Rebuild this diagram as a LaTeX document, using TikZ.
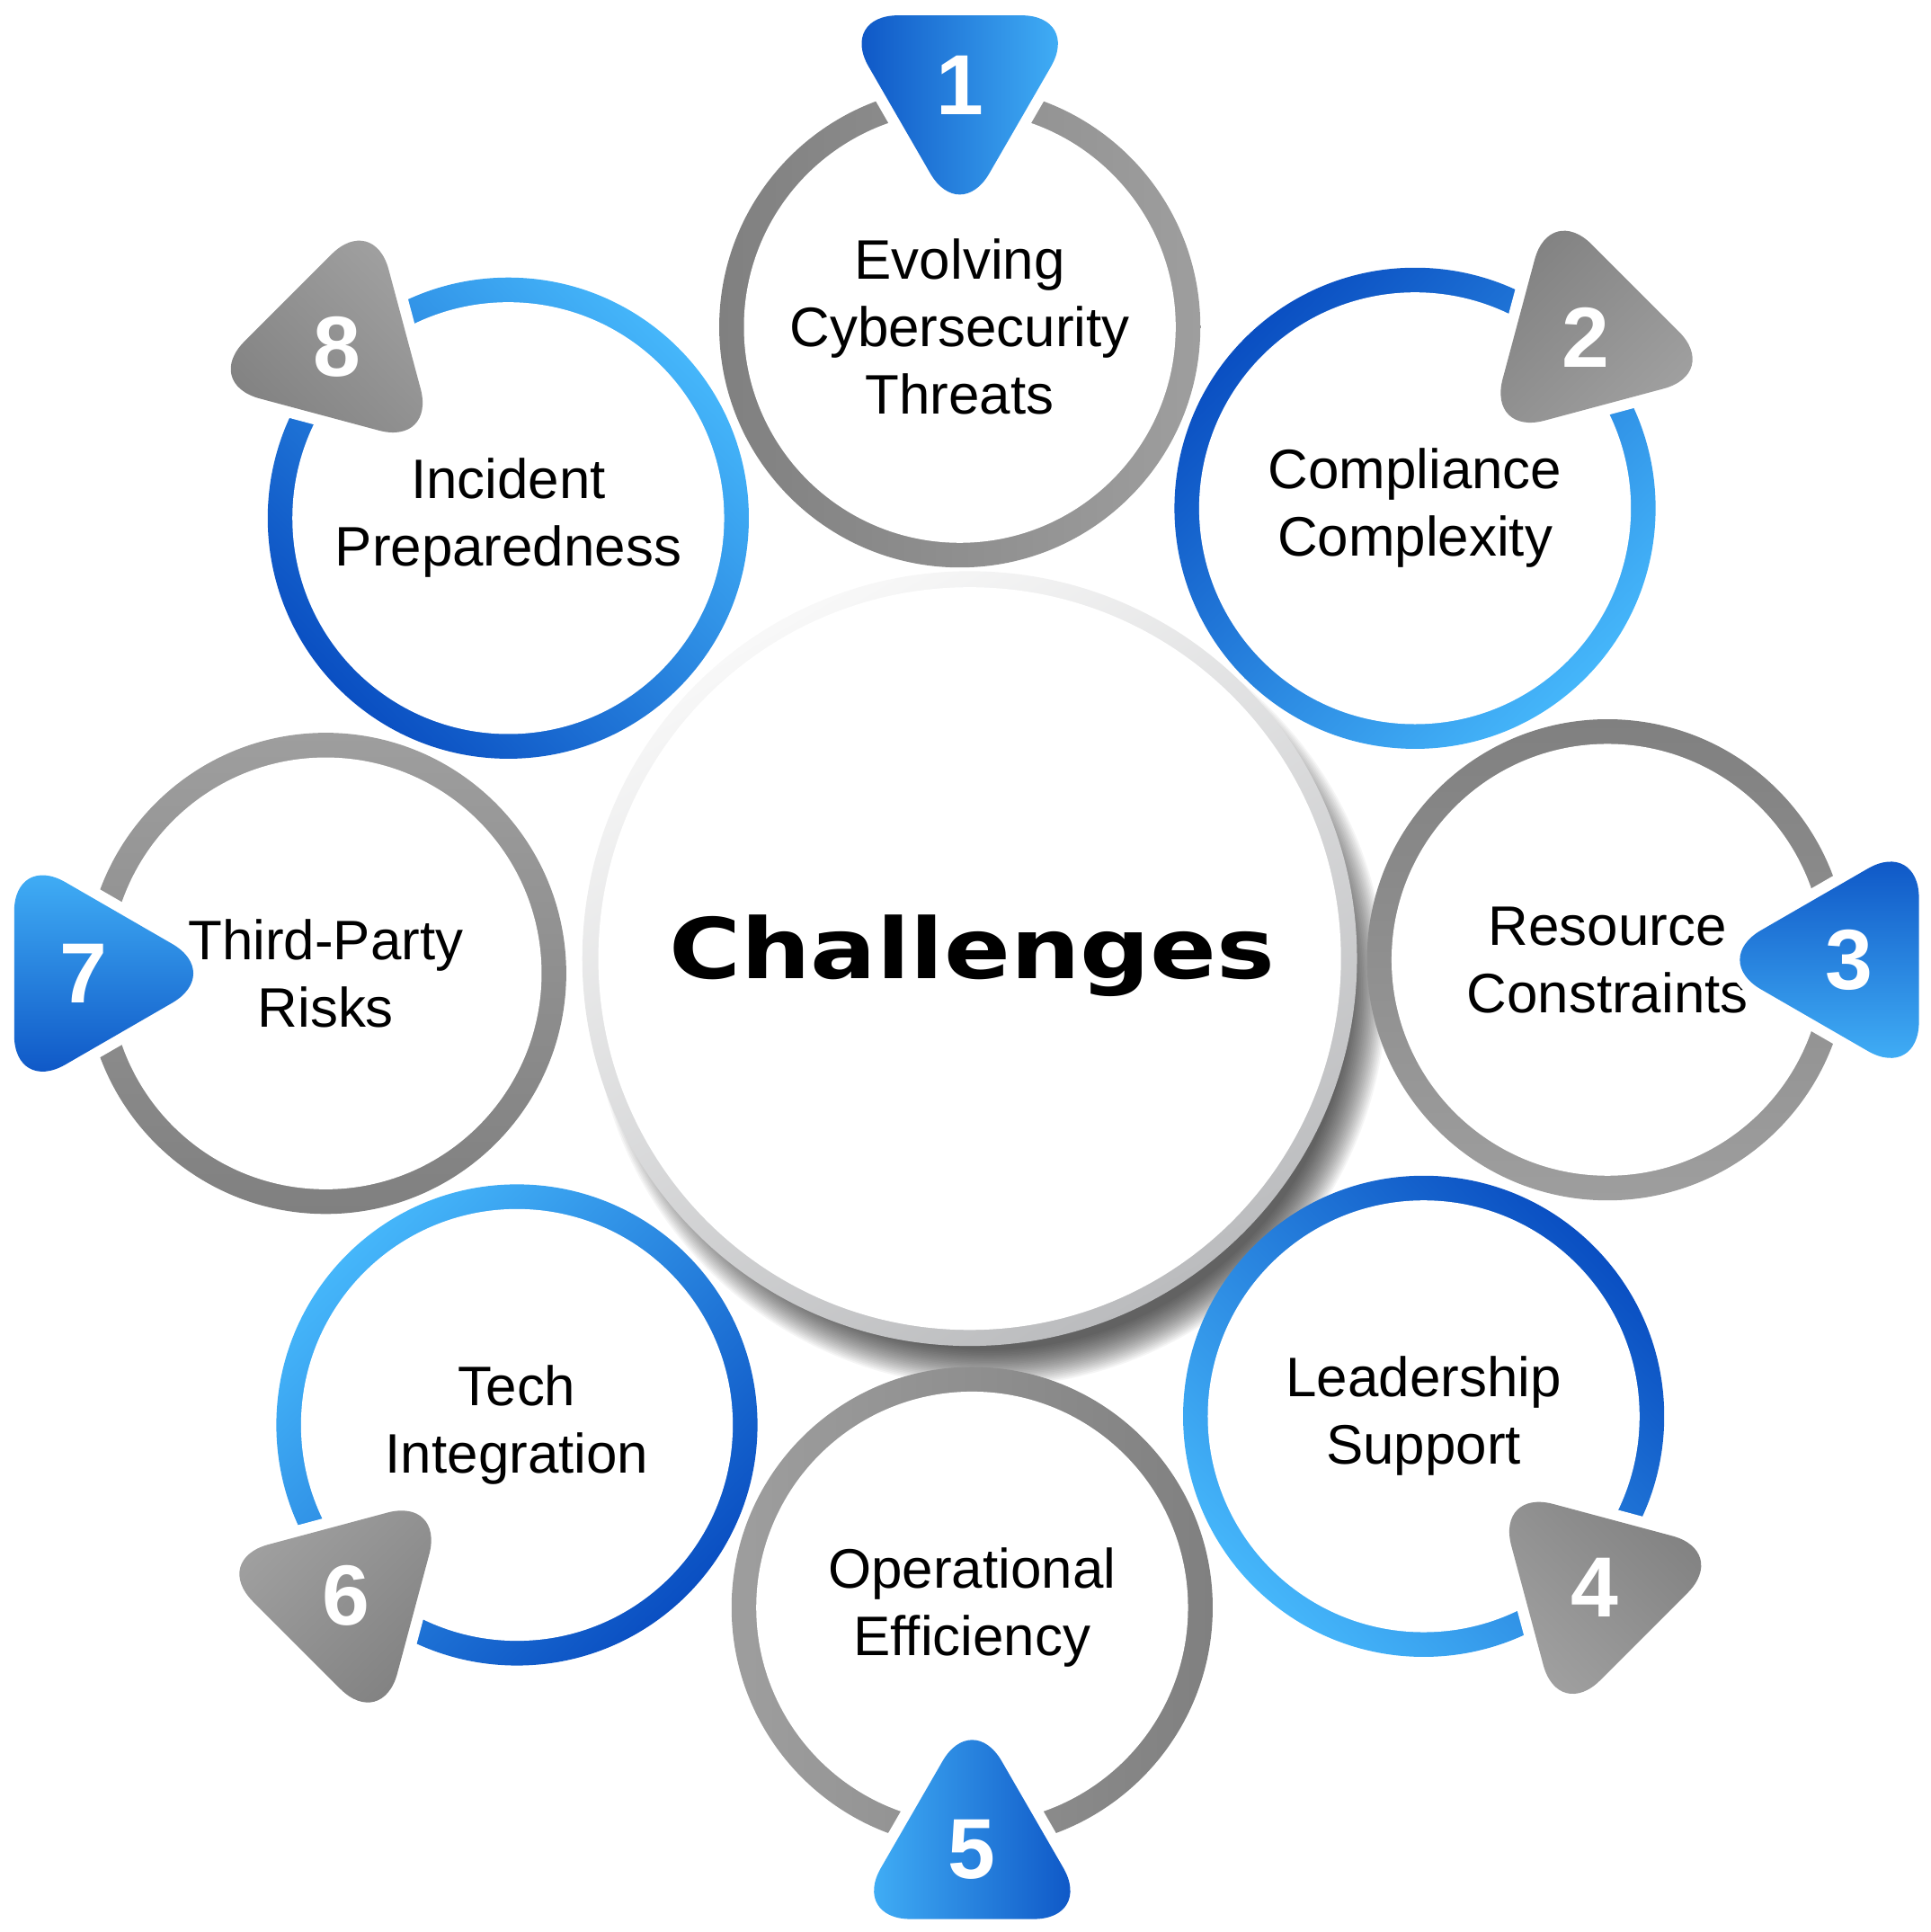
\documentclass[tikz,border=0pt]{standalone}
\usepackage{fontspec}
\setmainfont{Liberation Sans}
\newfontfamily\titlefont[FakeStretch=1.17]{DejaVu Sans}
\usetikzlibrary{calc, positioning}
\definecolor{bdark}{HTML}{0A4FC2}
\definecolor{blight}{HTML}{45B6FA}
\definecolor{gdark}{HTML}{808080}
\definecolor{glight}{HTML}{9E9E9E}
\definecolor{tdark}{HTML}{808080}
\definecolor{tlight}{HTML}{A2A2A2}
\definecolor{edgelight}{HTML}{F8F8F8}
\definecolor{edgedark}{HTML}{BBBCBE}
\tikzset{
    bring/.style={top color=bdark, bottom color=blight},
    gring/.style={top color=gdark, bottom color=glight},
    btri/.style={top color=bdark, bottom color=blight},
    gtri/.style={top color=tdark, bottom color=tlight},
    lbl/.style={align=center, font=\fontsize{17.6}{21.3}\selectfont},
    num/.style={text=white, font=\fontsize{27}{30}\selectfont\bfseries}
}

\begin{document}
\begin{tikzpicture}[x=0.013725cm, y=0.013725cm]
    \useasboundingbox (0, 0) rectangle (1565, 1566);
    \coordinate (m) at (786, 789);

    % centre disc with its shadow
    \foreach \i in {0, ..., 23} {
        \fill[black, opacity=0.04] ($(m)+(16, -25)$) circle ({322-1.3*\i});
    };
    \shade[top color=edgelight, bottom color=edgedark, shading angle=30] (m) circle (314);
    \fill[white] (m) circle (301);
    \node[font=\titlefont\bfseries\fontsize{26.5}{30}\selectfont, anchor=base] (ch) at (788, 773) {Challenges};

    \foreach \cx/\cy/\a/\rs/\ts/\n/\txt in {
        778/1301/90/gring/btri/1/{Evolving\\Cybersecurity\\Threats},
        1147/1154/45/bring/gtri/2/{Compliance\\Complexity},
        1303/788/0/gring/btri/3/{Resource\\Constraints},
        1154/418/-45/bring/gtri/4/{Leadership\\Support},
        788/263/-90/gring/btri/5/{Operational\\Efficiency},
        419/411/-135/bring/gtri/6/{Tech\\Integration},
        264/777/180/gring/btri/7/{Third-Party\\Risks},
        412/1146/135/bring/gtri/8/{Incident\\Preparedness}} {
        \shade[\rs, shading angle=\a] (\cx, \cy) circle (195);
        \fill[white] (\cx, \cy) circle (175);
        \node[lbl] (l\n) at (\cx, \cy) {\txt};
        \coordinate (t\n) at ($(\cx, \cy)+(\a:196)$);
        \draw[white, line width=7pt, rounded corners=18.7pt]
            ($(t\n)+(\a+180:113)$) -- ($(t\n)+(\a+60:113)$) -- ($(t\n)+(\a-60:113)$) -- cycle;
        \shade[\ts, shading angle=\a, rounded corners=18.7pt]
            ($(t\n)+(\a+180:113)$) -- ($(t\n)+(\a+60:113)$) -- ($(t\n)+(\a-60:113)$) -- cycle;
        \node[num] (n\n) at (t\n) {\n};
    };
\end{tikzpicture}
\end{document}
